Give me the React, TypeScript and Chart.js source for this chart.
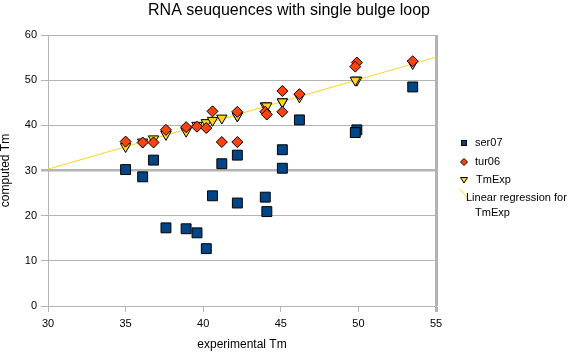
import React, { useEffect, useRef } from "react";
import { Chart, registerables } from "chart.js";

Chart.register(...registerables);

const chartTitle = "RNA seuquences with single bulge loop";
const xTitle = "experimental Tm";
const yTitle = "computed Tm";
const seriesNames = ["ser07", "tur06", "TmExp", "Linear regression for", "TmExp"];

const experimental = [35.0, 36.1, 36.8, 37.6, 38.9, 39.6, 40.2, 40.6, 41.2, 42.2, 42.2, 44.0, 44.1, 45.1, 45.1, 46.2, 49.9, 49.8, 53.5];
const ser07 = [30.2, 28.6, 32.3, 17.3, 17.1, 16.2, 12.7, 24.4, 31.5, 33.4, 22.8, 24.1, 20.9, 34.6, 30.5, 41.2, 39.0, 38.4, 48.5];
const tur06 = [36.4, 36.2, 36.2, 39.0, 39.6, 39.7, 39.4, 43.1, 36.3, 43.0, 36.3, 43.0, 42.4, 47.6, 43.0, 46.9, 53.9, 53.0, 54.2];
const tmExp = [35.3, 36.3, 37.0, 38.0, 38.7, 40.0, 40.6, 41.1, 41.6, 42.1, 42.1, 44.3, 44.3, 45.2, 45.2, 46.3, 50.0, 50.0, 53.7];

const xMin = 30, xMax = 55, xStep = 5;
const yMin = 0, yMax = 60, yStep = 10;

const BLUE = "#004586";
const ORANGE = "#ff420e";
const YELLOW = "#ffd320";
const GRID = "#b3b3b3";
const FONT = "'Liberation Sans', Arial, sans-serif";

function pts(ys: number[]) {
  return experimental.map((x, i) => ({ x, y: ys[i] }));
}

function regressionLine() {
  const n = experimental.length;
  const mx = experimental.reduce((a, b) => a + b, 0) / n;
  const my = tmExp.reduce((a, b) => a + b, 0) / n;
  let sxy = 0, sxx = 0;
  for (let i = 0; i < n; i++) {
    sxy += (experimental[i] - mx) * (tmExp[i] - my);
    sxx += (experimental[i] - mx) ** 2;
  }
  const b = sxy / sxx;
  const a = my - b * mx;
  return [{ x: xMin, y: a + b * xMin }, { x: xMax, y: a + b * xMax }];
}

const legendPlugin = {
  id: "customLegend",
  afterDraw(chart: any) {
    const ctx = chart.ctx;
    const lx = chart.chartArea.right + 28;
    ctx.save();
    ctx.font = `11px ${FONT}`;
    ctx.fillStyle = "#000";
    ctx.textBaseline = "middle";
    ctx.textAlign = "left";
    ctx.lineWidth = 1;
    ctx.strokeStyle = "#000";
    // square
    ctx.fillStyle = BLUE;
    ctx.fillRect(lx - 2.5, 140.5, 5, 5);
    ctx.strokeRect(lx - 2.5, 140.5, 5, 5);
    // diamond
    ctx.beginPath();
    ctx.moveTo(lx, 158.5);
    ctx.lineTo(lx + 3.5, 162);
    ctx.lineTo(lx, 165.5);
    ctx.lineTo(lx - 3.5, 162);
    ctx.closePath();
    ctx.fillStyle = ORANGE;
    ctx.fill();
    ctx.stroke();
    // triangle
    ctx.beginPath();
    ctx.moveTo(lx - 3.5, 177.5);
    ctx.lineTo(lx + 3.5, 177.5);
    ctx.lineTo(lx, 183);
    ctx.closePath();
    ctx.fillStyle = YELLOW;
    ctx.fill();
    ctx.stroke();
    // line
    ctx.beginPath();
    ctx.strokeStyle = YELLOW;
    ctx.moveTo(lx - 4, 189);
    ctx.lineTo(lx + 5, 200);
    ctx.stroke();
    ctx.fillStyle = "#000";
    ctx.fillText(seriesNames[0], lx + 11, 143);
    ctx.fillText(seriesNames[1], lx + 11, 162);
    ctx.fillText(seriesNames[2], lx + 12, 180);
    ctx.fillText(seriesNames[3], lx + 2, 198);
    ctx.fillText(seriesNames[4], lx + 11, 213);
    ctx.restore();
  },
};

export default function App() {
  const ref = useRef<HTMLCanvasElement | null>(null);
  useEffect(() => {
    if (!ref.current) return;
    const chart = new Chart(ref.current, {
      type: "scatter",
      data: {
        datasets: [
          {
            label: "tur06",
            data: pts(tur06),
            pointStyle: "rectRot",
            pointRadius: 5.5,
            backgroundColor: ORANGE,
            borderColor: "#000",
            borderWidth: 1,
            order: 0,
          },
          {
            label: "TmExp",
            data: pts(tmExp),
            pointStyle: "triangle",
            pointRotation: 180,
            pointRadius: 6,
            backgroundColor: YELLOW,
            borderColor: "#000",
            borderWidth: 1,
            order: 1,
          },
          {
            label: "ser07",
            data: pts(ser07),
            pointStyle: "rect",
            pointRadius: 7,
            backgroundColor: BLUE,
            borderColor: "#000",
            borderWidth: 1,
            order: 2,
          },
          {
            label: "Linear regression for TmExp",
            data: regressionLine(),
            showLine: true,
            pointRadius: 0,
            borderColor: YELLOW,
            backgroundColor: YELLOW,
            borderWidth: 1,
            order: 3,
          },
        ],
      } as any,
      options: {
        animation: false,
        responsive: false,
        events: [],
        layout: { padding: 0 },
        plugins: {
          legend: { display: false },
          tooltip: { enabled: false },
          title: {
            display: true,
            text: chartTitle,
            color: "#000",
            font: { family: FONT, size: 16, weight: "normal", lineHeight: 1.2 },
            padding: { top: 1, bottom: 14.8 },
          },
        },
        scales: {
          x: {
            type: "linear",
            min: xMin,
            max: xMax,
            ticks: { stepSize: xStep, color: "#000", font: { family: FONT, size: 11 }, padding: 5, maxRotation: 0 },
            grid: {
              drawOnChartArea: true,
              color: (c: any) => (c.tick && c.tick.value === xMax ? GRID : "rgba(0,0,0,0)"),
              lineWidth: (c: any) => (c.tick && c.tick.value === xMax ? 3 : 1),
              tickColor: GRID,
              tickLength: 6,
            },
            border: { display: true, color: GRID, width: 1 },
            title: {
              display: true,
              text: xTitle,
              color: "#000",
              font: { family: FONT, size: 12, lineHeight: 1.2 },
              padding: { top: 0, bottom: 2 },
            },
            afterFit: (s: any) => {
              s.height = 48;
            },
          },
          y: {
            type: "linear",
            min: yMin,
            max: yMax,
            ticks: { stepSize: yStep, color: "#000", font: { family: FONT, size: 11 }, padding: 4 },
            grid: {
              color: GRID,
              lineWidth: (c: any) => (c.tick && c.tick.value === 30 ? 2.5 : 1),
              tickColor: GRID,
              tickLength: 7,
            },
            border: { display: true, color: GRID, width: 1 },
            title: {
              display: true,
              text: yTitle,
              color: "#000",
              font: { family: FONT, size: 12, lineHeight: 1 },
              padding: { top: 0, bottom: 0 },
            },
            afterFit: (s: any) => {
              s.width = 48;
            },
          },
          pad: {
            type: "linear",
            position: "right",
            display: true,
            grid: { display: false },
            ticks: { display: false },
            border: { display: false },
            afterFit: (s: any) => {
              s.width = 142;
            },
          },
        },
      } as any,
      plugins: [legendPlugin],
    });
    return () => chart.destroy();
  }, []);
  return (
    <div style={{ position: "absolute", left: 0, top: 0, width: 578, height: 354, background: "#fff" }}>
      <canvas ref={ref} width={578} height={354} style={{ display: "block" }} />
    </div>
  );
}
